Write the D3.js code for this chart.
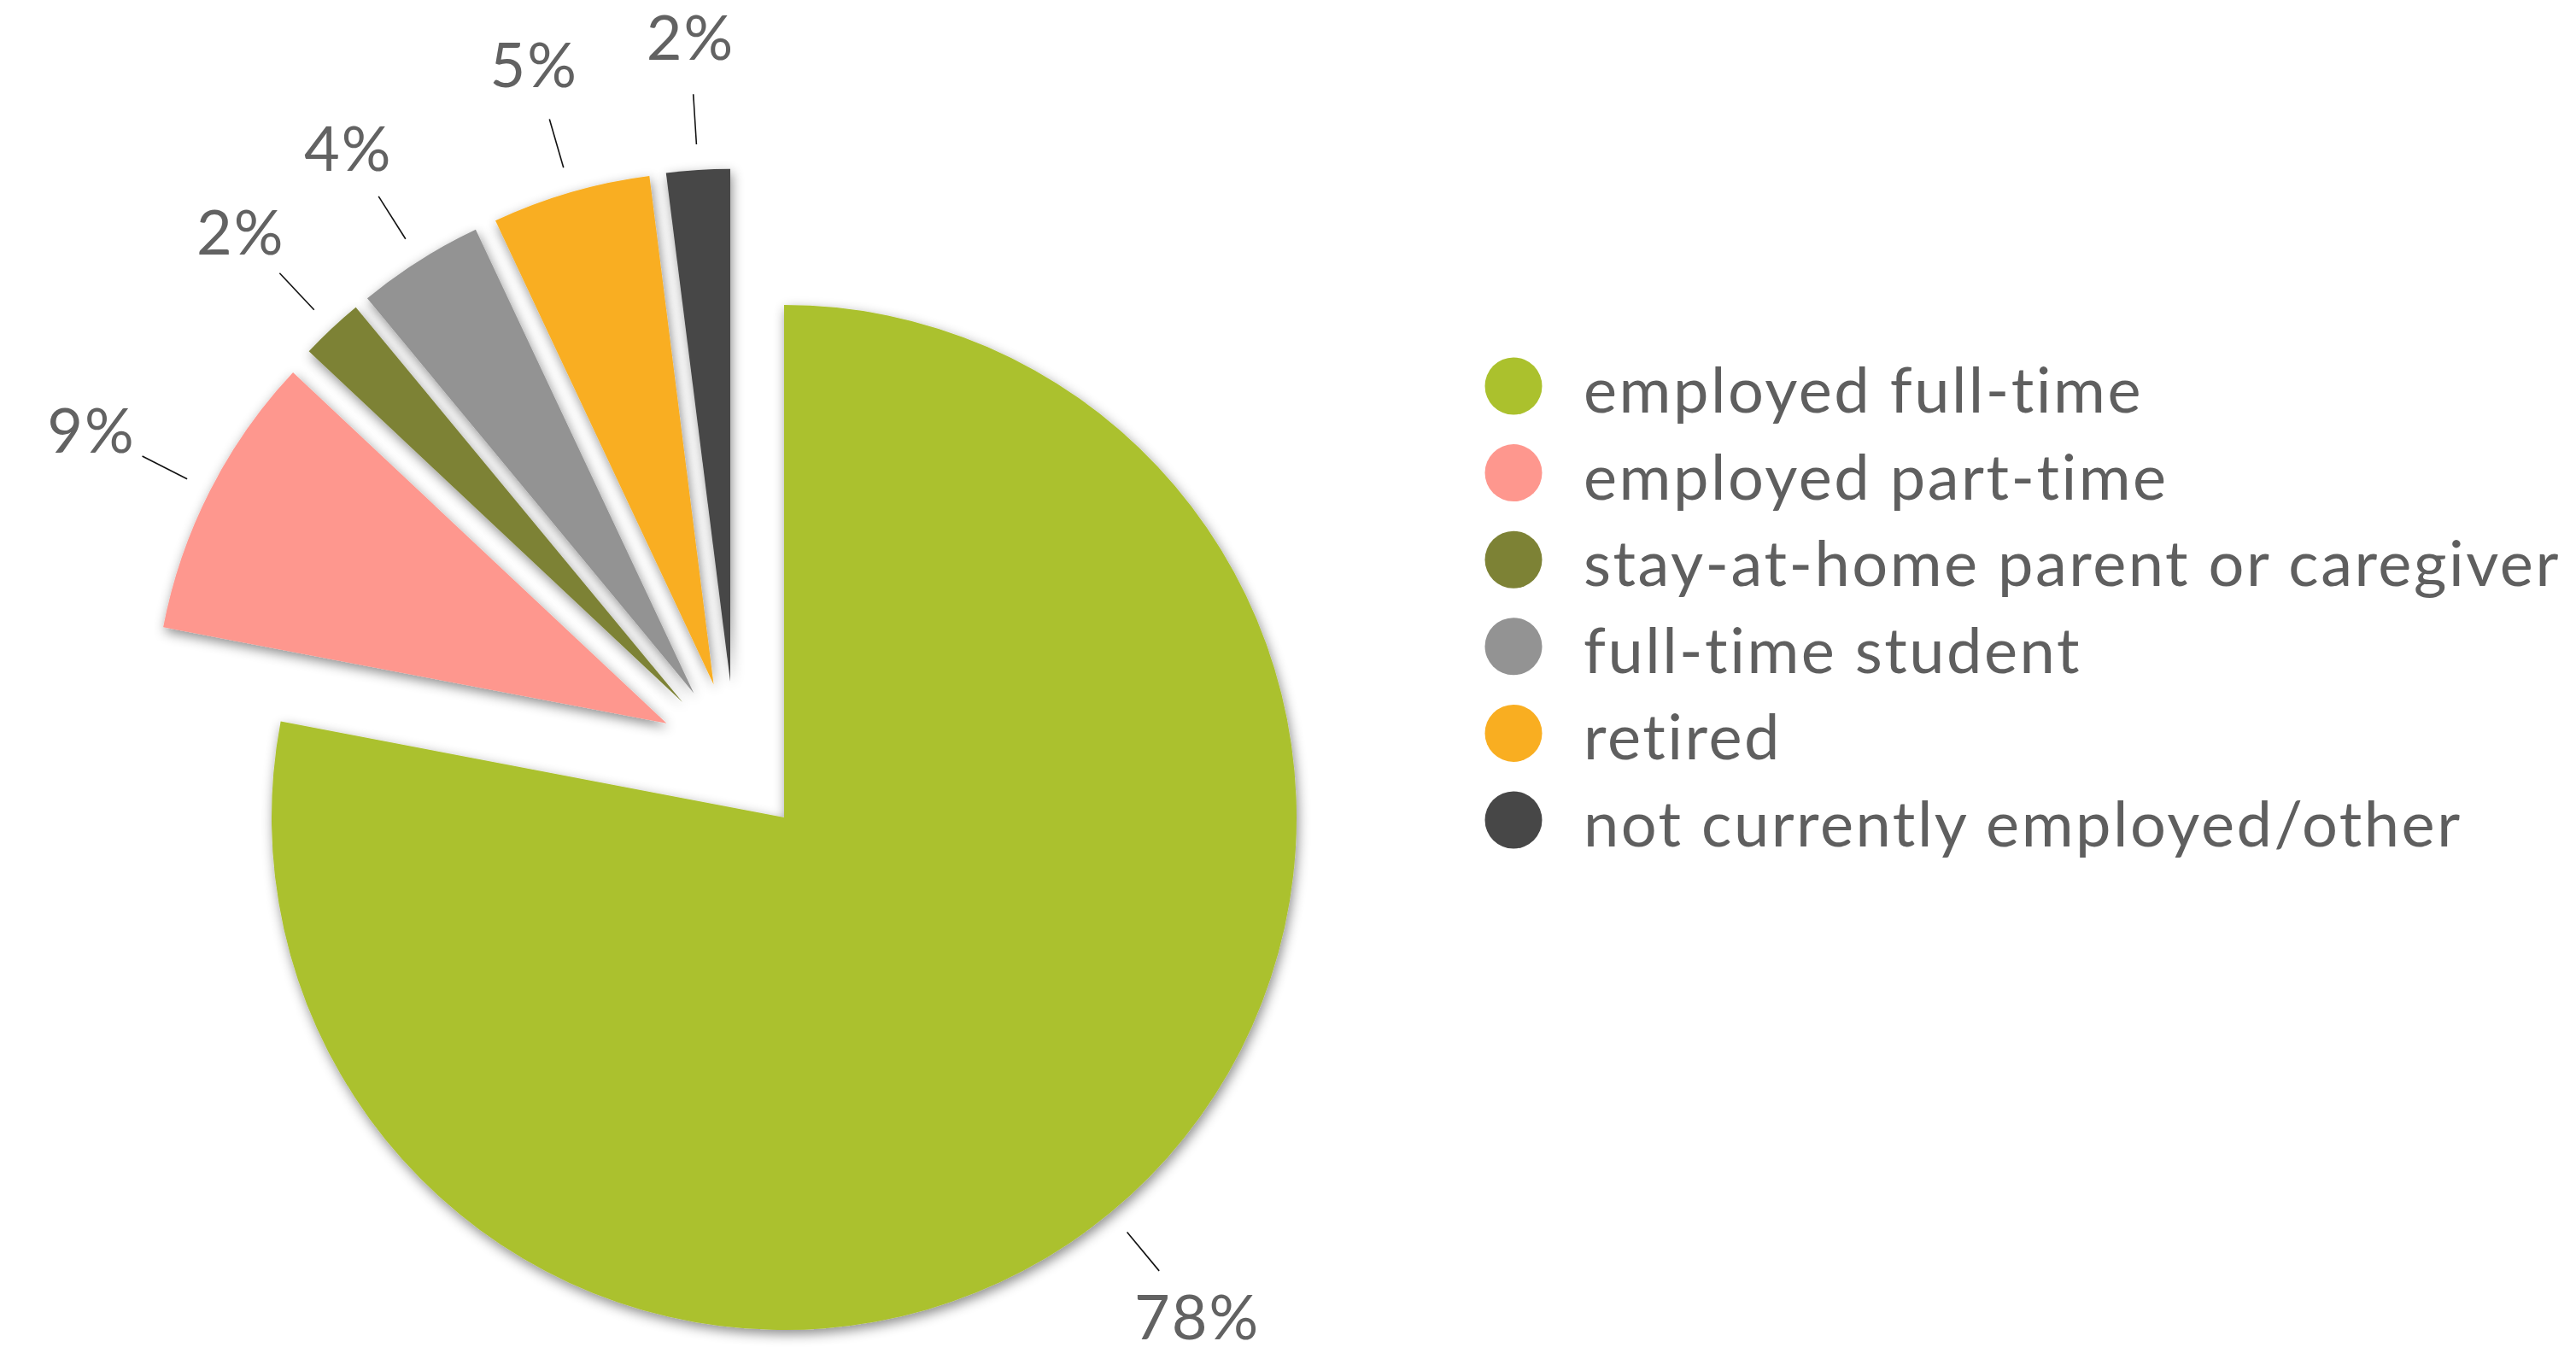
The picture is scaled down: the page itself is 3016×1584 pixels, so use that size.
<!DOCTYPE html>
<html>
<head>
<meta charset="utf-8">
<script src="https://cdn.jsdelivr.net/npm/d3@7"></script>
<style>
  html, body { margin: 0; padding: 0; background: #ffffff; }
  svg { display: block; }
</style>
</head>
<body>
<svg id="chart" width="3016" height="1584"></svg>
<script>
// Employment status of respondents
const categories = [
  "employed full-time",
  "employed part-time",
  "stay-at-home parent or caregiver",
  "full-time student",
  "retired",
  "not currently employed/other"
];
const shares = [78, 9, 2, 4, 5, 2];
const percentLabels = ["78%", "9%", "2%", "4%", "5%", "2%"];
const palette = ["#abc12d", "#fe978e", "#7d8235", "#939393", "#f9ae21", "#474747"];

const W = 3016, H = 1584;
const cx = 918, cy = 957, R = 600;
// the smaller answers are pulled out as a block, then each one is pulled out again
const blockPush = 0.15 * R;
const slicePush = 0.15 * R;

const svg = d3.select("#chart").attr("viewBox", `0 0 ${W} ${H}`);

const defs = svg.append("defs");
const shade = defs.append("filter")
  .attr("id", "shade")
  .attr("x", "-30%").attr("y", "-30%")
  .attr("width", "160%").attr("height", "160%");
shade.append("feDropShadow")
  .attr("dx", 2).attr("dy", 5)
  .attr("stdDeviation", 7)
  .attr("flood-color", "#000")
  .attr("flood-opacity", 0.45);

const color = d3.scaleOrdinal().domain(categories).range(palette);

const rows = categories.map((c, i) => ({ name: c, value: shares[i], label: percentLabels[i] }));

const pie = d3.pie().sort(null).value(d => d.value).startAngle(0).endAngle(2 * Math.PI);
const arcs = pie(rows);
const arc = d3.arc().innerRadius(0).outerRadius(R);

const unit = a => [Math.sin(a), -Math.cos(a)];

// block of the smaller slices (everything after the first)
const rest = arcs.slice(1);
const blockMid = (rest[0].startAngle + rest[rest.length - 1].endAngle) / 2;
const blockDir = unit(blockMid);

arcs.forEach((d, i) => {
  const mid = (d.startAngle + d.endAngle) / 2;
  const [ux, uy] = unit(mid);
  let ox = 0, oy = 0;
  if (i > 0) {
    ox = blockDir[0] * blockPush + ux * slicePush;
    oy = blockDir[1] * blockPush + uy * slicePush;
  }
  d.ox = cx + ox;
  d.oy = cy + oy;
  d.ux = ux;
  d.uy = uy;
});

const pieG = svg.append("g");

pieG.selectAll("path.slice")
  .data(arcs)
  .join("path")
  .attr("class", "slice")
  .attr("transform", d => `translate(${d.ox},${d.oy})`)
  .attr("d", arc)
  .attr("fill", d => color(d.data.name))
  .attr("filter", "url(#shade)");

// leader lines
const lineIn = R + 30, lineOut = R + 89, labelR = R + 157;
pieG.selectAll("line.leader")
  .data(arcs)
  .join("line")
  .attr("class", "leader")
  .attr("x1", d => d.ox + d.ux * lineIn)
  .attr("y1", d => d.oy + d.uy * lineIn)
  .attr("x2", d => d.ox + d.ux * lineOut)
  .attr("y2", d => d.oy + d.uy * lineOut)
  .attr("stroke", "#111")
  .attr("stroke-width", 1.6);

const fs = 72;
pieG.selectAll("text.pct")
  .data(arcs)
  .join("text")
  .attr("class", "pct")
  .attr("x", d => d.ox + d.ux * labelR + 1)
  .attr("y", d => d.oy + d.uy * labelR + 0.38 * fs)
  .attr("text-anchor", "middle")
  .attr("font-family", "Lato, 'Open Sans', sans-serif")
  .attr("font-size", fs)
  .attr("letter-spacing", 2)
  .attr("fill", "#626262")
  .text(d => d.data.label);

// legend
const legend = svg.append("g").attr("transform", "translate(1772,452)");
const step = 101.6;
const item = legend.selectAll("g.item")
  .data(categories)
  .join("g")
  .attr("class", "item")
  .attr("transform", (d, i) => `translate(0,${i * step})`);

item.append("circle")
  .attr("r", 33.5)
  .attr("fill", d => color(d));

item.append("text")
  .attr("x", 82)
  .attr("y", 31)
  .attr("font-family", "Lato, 'Open Sans', sans-serif")
  .attr("font-size", 74)
  .attr("letter-spacing", 2.5)
  .attr("fill", "#5f5f5f")
  .text(d => d);
</script>
</body>
</html>
